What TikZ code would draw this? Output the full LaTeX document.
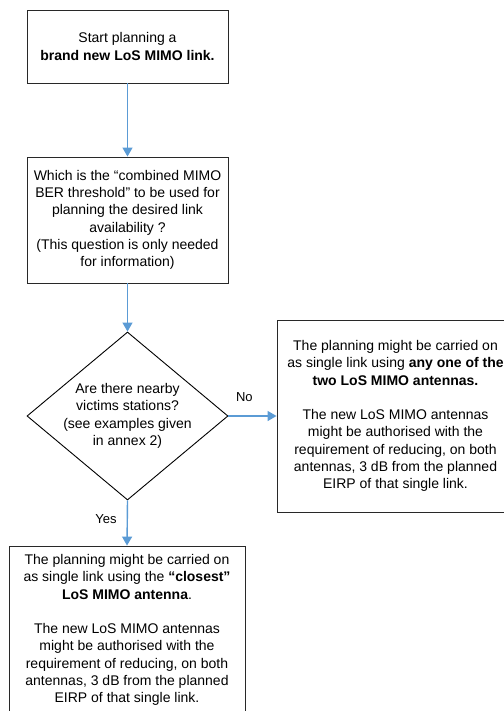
\documentclass[tikz,border=0pt]{standalone}
\usepackage{fontspec}
\setmainfont{Liberation Sans}
\usetikzlibrary{arrows.meta,shapes.geometric}
\definecolor{flowblue}{RGB}{91,155,213}
\definecolor{edgegray}{RGB}{40,40,40}
\begin{document}
\begin{tikzpicture}[x=1pt,y=1pt,
  txt/.style={font=\fontsize{14}{17.3}\selectfont, align=center, inner sep=0pt},
  box/.style={draw=edgegray, line width=0.9pt, fill=white, rectangle},
  decision/.style={draw=black, line width=0.9pt, fill=white, diamond, inner sep=0pt},
  flow/.style={draw=flowblue, line width=1.4pt, -{Triangle[length=9pt,width=10pt]}},
  lbl/.style={font=\fontsize{13}{16}\selectfont, inner sep=0pt}]
\useasboundingbox (0,0) rectangle (503,-711);

% start box
\node[box, minimum width=201pt, minimum height=73pt] (start) at (127.5,-46.5) {};
\node[txt] (starttxt) at (start.center) {Start planning a\\\textbf{brand new LoS MIMO link.}};

% threshold question box
\node[box, minimum width=201pt, minimum height=126pt] (ber) at (127.5,-220) {};
\node[txt] (bertxt) at (ber.center) {Which is the “combined MIMO\\BER threshold” to be used for\\planning the desired link\\availability ?\\(This question is only needed\\for information)};

% decision
\node[decision, minimum width=201pt, minimum height=168pt] (victims) at (127.5,-416) {};
\node[txt] (victimstxt) at (victims.center) {Are there nearby\\victims stations?\\(see examples given\\in annex 2)};

% outcome: no victims
\node[box, minimum width=237pt, minimum height=192pt] (anyone) at (395.5,-416) {};
\node[txt] (anyonetxt) at (anyone.center) {The planning might be carried on\\as single link using \textbf{any one of the}\\\textbf{two LoS MIMO antennas.}\\[17.3pt]The new LoS MIMO antennas\\might be authorised with the\\requirement of reducing, on both\\antennas, 3 dB from the planned\\EIRP of that single link.};

% outcome: victims present
\node[box, minimum width=236pt, minimum height=168pt] (closest) at (127,-630) {};
\node[txt] (closesttxt) at (closest.center) {The planning might be carried on\\as single link using the \textbf{“closest”}\\\textbf{LoS MIMO antenna}.\\[17.3pt]The new LoS MIMO antennas\\might be authorised with the\\requirement of reducing, on both\\antennas, 3 dB from the planned\\EIRP of that single link.};

% connectors
\draw[flow] (start.south) -- (ber.north);
\draw[flow] (ber.south) -- (victims.north);
\draw[flow] (victims.east) -- node[lbl, above=14pt, pos=0.33] (nolbl) {No} (anyone.west);
\draw[flow] (victims.south) -- node[lbl, left=10pt, pos=0.42] (yeslbl) {Yes} (closest.north);
\end{tikzpicture}
\end{document}
